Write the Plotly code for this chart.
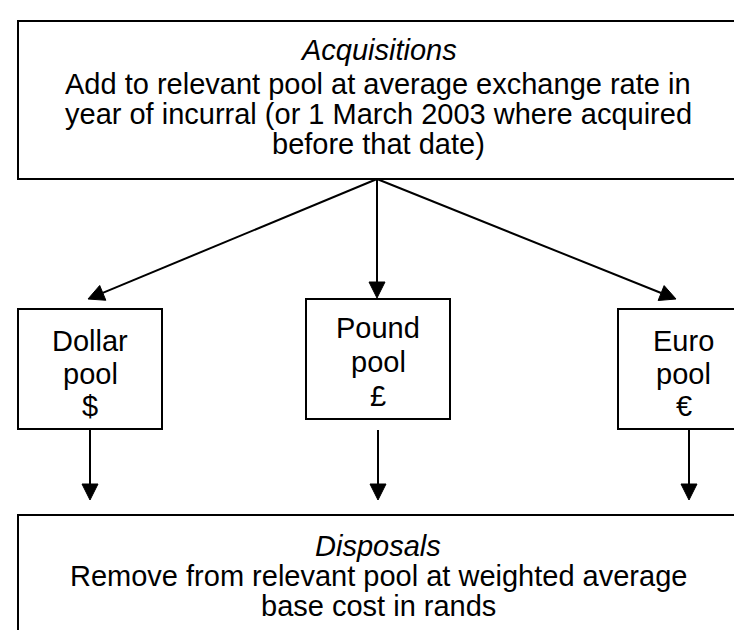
import math
import plotly.graph_objects as go

W, H = 742, 630
FONT = "Liberation Sans, Arial, sans-serif"
FS = 29

# Boxes: (x0, y0, x1, y1) in pixel-like data units (y downward)
top_box = (10, 13, 730, 171)
pool_boxes = [(10, 301, 154, 421), (298, 291, 442, 411), (610, 301, 741, 421)]
bottom_box = (10, 507, 730, 650)

top_title = "Acquisitions"
top_lines = ["Add to relevant pool at average exchange rate in",
             "year of incurral (or 1 March 2003 where acquired",
             "before that date)"]
pool_labels = [["Dollar", "pool", "$"], ["Pound", "pool", "£"], ["Euro", "pool", "€"]]
bottom_title = "Disposals"
bottom_lines = ["Remove from relevant pool at weighted average", "base cost in rands"]

# Arrows: (x_start, y_start, x_end, y_end)
upper_arrows = [(369, 171, 80, 291), (369, 171, 369, 290), (369, 171, 668, 291)]
lower_arrows = [(82, 421, 82, 492), (370, 422, 370, 492), (681, 421, 681, 492)]

fig = go.Figure()
shapes = []
ann = []


def box(b):
    shapes.append(dict(type="rect", x0=b[0], y0=b[1], x1=b[2], y1=b[3],
                       line=dict(color="black", width=2), fillcolor="white", layer="below"))


def arrow(a, head_len=16, head_w=8):
    x0, y0, x1, y1 = a
    dx, dy = x1 - x0, y1 - y0
    L = math.hypot(dx, dy)
    ux, uy = dx / L, dy / L
    bx, by = x1 - ux * head_len, y1 - uy * head_len
    px, py = -uy * head_w, ux * head_w
    shapes.append(dict(type="line", x0=x0, y0=y0, x1=bx, y1=by,
                       line=dict(color="black", width=2)))
    path = f"M {x1},{y1} L {bx+px},{by+py} L {bx-px},{by-py} Z"
    shapes.append(dict(type="path", path=path, fillcolor="black",
                       line=dict(color="black", width=1)))


box(top_box)
for b in pool_boxes:
    box(b)
box(bottom_box)
for a in upper_arrows + lower_arrows:
    arrow(a)


def text(x, y, s, italic=False):
    ann.append(dict(x=x, y=y, text=(f"<i>{s}</i>" if italic else s), showarrow=False,
                    xanchor="center", yanchor="middle",
                    font=dict(family=FONT, size=FS, color="black")))


cx = (top_box[0] + top_box[2]) / 2
text(cx, 42, top_title, italic=True)
for i, s in enumerate(top_lines):
    text(cx, 76 + 30 * i, s)

pool_y = [[333, 366, 398], [320, 354, 388], [333, 366, 398]]
for b, labels, ys in zip(pool_boxes, pool_labels, pool_y):
    bx = (b[0] + b[2]) / 2
    for s, y in zip(labels, ys):
        text(bx, y, s)

text(cx, 538, bottom_title, italic=True)
for i, s in enumerate(bottom_lines):
    text(cx, 568 + 30 * i, s)

fig.update_layout(width=W, height=H, margin=dict(l=0, r=0, t=0, b=0),
                  paper_bgcolor="white", plot_bgcolor="white",
                  shapes=shapes, annotations=ann, showlegend=False,
                  xaxis=dict(range=[0, W], visible=False, fixedrange=True),
                  yaxis=dict(range=[H, 0], visible=False, fixedrange=True))
fig.write_html("out.html")
